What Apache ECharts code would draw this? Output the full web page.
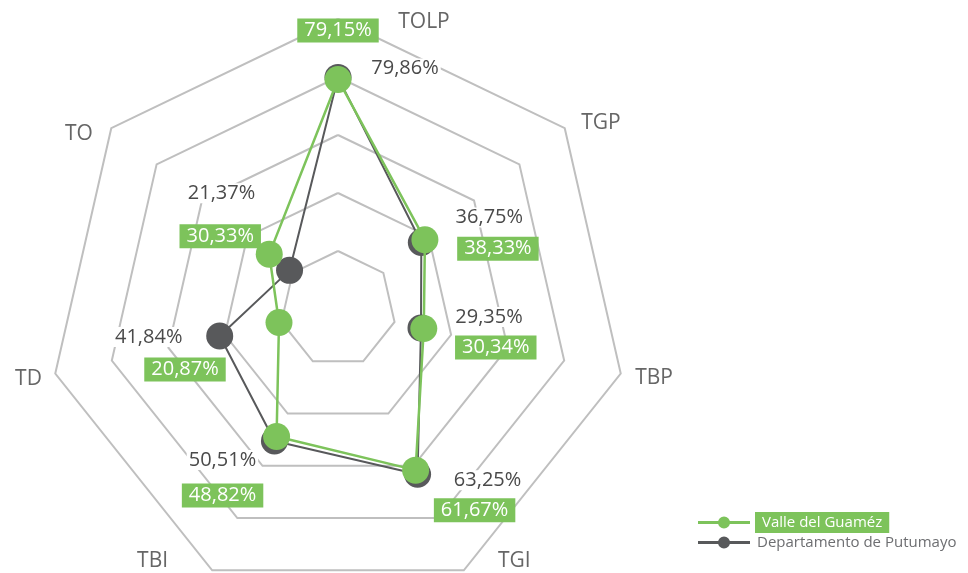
<!DOCTYPE html>
<html>
<head>
<meta charset="utf-8">
<script src="https://cdn.jsdelivr.net/npm/echarts@6/dist/echarts.min.js"></script>
<style>
  html, body { margin: 0; padding: 0; background: #fff; }
  #main { width: 968px; height: 573px; }
</style>
</head>
<body>
<div id="main"></div>
<script>
// radar goes counter-clockwise from the top
const indicators = ['TOLP', 'TO', 'TD', 'TBI', 'TGI', 'TBP', 'TGP'];
const valleGuamez = [79.15, 30.33, 20.87, 48.82, 61.67, 30.34, 38.33];
const putumayo = [79.86, 21.37, 41.84, 50.51, 63.25, 29.35, 36.75];
const seriesNames = ['Valle del Guaméz', 'Departamento de Putumayo'];

const GREEN = '#7dc35b';
const DARK = '#58595b';
const FONT = '"Open Sans", sans-serif';

// where each value label sits, relative to its point (indicator order)
const greenLabelOffsets = [[0, -49], [-49, -18], [-94, 47], [-54, 59], [59, 40], [72, 19], [73, 9]];
const darkLabelOffsets = [[67, -9], [-68, -77], [-71, 1], [-52, 19], [70, 6], [68, -11], [68, -25]];
// padding that nudges each indicator name into place [top, right, bottom, left]
const namePads = [[0, 0, 2, 172], [0, 31, 8, 0], [18, 29, 0, 0], [11, 51, 0, 0], [11, 0, 0, 41], [17, 0, 0, 30], [0, 0, 31, 29]];

const fmt = v => v.toFixed(2).replace('.', ',') + '%';

function offsetLayout(values, offsets) {
    const texts = values.map(fmt);
    return function (p) {
        const i = texts.indexOf(p.text);
        if (i < 0) return {};
        return { dx: offsets[i][0], dy: offsets[i][1] };
    };
}

const nameRich = {};
namePads.forEach((pad, i) => {
    nameRich['n' + i] = { padding: pad, fontSize: 21, color: '#666666', fontFamily: FONT };
});

const chart = echarts.init(document.getElementById('main'));

chart.setOption({
    animation: false,
    backgroundColor: '#fff',
    legend: {
        orient: 'vertical',
        left: 693,
        top: 507,
        itemWidth: 52,
        itemHeight: 12,
        itemGap: 2,
        selectedMode: false,
        icon: 'path://M0,4.5 H52 V7.5 H0 Z M20,6 A6,6 0 1,1 32,6 A6,6 0 1,1 20,6 Z',
        textStyle: { fontFamily: FONT, fontSize: 15, color: '#6d6e71' },
        data: [
            { name: seriesNames[0], textStyle: { color: '#fff', backgroundColor: GREEN, padding: [3, 7, 3, 7] } },
            { name: seriesNames[1], textStyle: { padding: [0, 0, 0, 2] } }
        ]
    },
    radar: {
        center: [338, 309],
        radius: 290,
        startAngle: 90,
        shape: 'polygon',
        splitNumber: 5,
        nameGap: -16,
        indicator: indicators.map(n => ({ name: n, min: 0, max: 100 })),
        axisName: {
            formatter: name => '{n' + indicators.indexOf(name) + '|' + name + '}',
            rich: nameRich
        },
        axisLine: { show: false },
        axisTick: { show: false },
        axisLabel: { show: false },
        splitArea: { show: false },
        splitLine: { lineStyle: { color: '#bfbfbf', width: 2 } }
    },
    series: [
        {
            name: seriesNames[0],
            type: 'radar',
            z: 3,
            color: GREEN,
            symbol: 'circle',
            symbolSize: 27,
            lineStyle: { color: GREEN, width: 2.5 },
            itemStyle: { color: GREEN },
            label: {
                show: true,
                position: 'inside',
                formatter: p => fmt(p.value),
                color: '#fff',
                backgroundColor: GREEN,
                padding: [2, 7, 2, 7],
                fontFamily: FONT,
                fontSize: 20
            },
            labelLayout: offsetLayout(valleGuamez, greenLabelOffsets),
            data: [{ name: seriesNames[0], value: valleGuamez }]
        },
        {
            name: seriesNames[1],
            type: 'radar',
            z: 2,
            color: DARK,
            symbol: 'circle',
            symbolSize: 27,
            lineStyle: { color: DARK, width: 2 },
            itemStyle: { color: DARK },
            label: {
                show: true,
                position: 'inside',
                formatter: p => fmt(p.value),
                color: '#4a4a4a',
                backgroundColor: '#fff',
                padding: [0, 2, 0, 2],
                fontFamily: FONT,
                fontSize: 20
            },
            labelLayout: offsetLayout(putumayo, darkLabelOffsets),
            data: [{ name: seriesNames[1], value: putumayo }]
        }
    ]
});
</script>
</body>
</html>
